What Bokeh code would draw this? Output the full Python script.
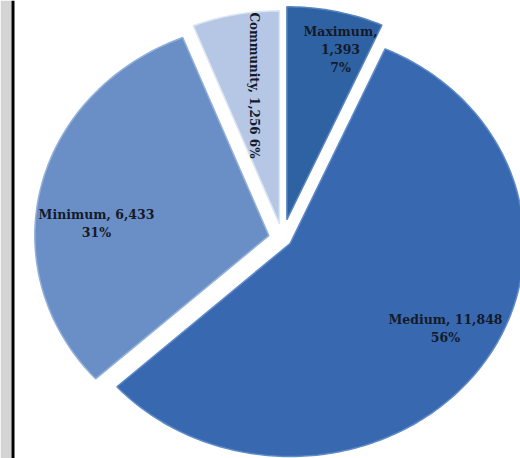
import math
from bokeh.plotting import figure
from bokeh.models import Range1d, ColumnDataSource
from bokeh.core.properties import value
from bokeh.embed import file_html
from bokeh.resources import INLINE

# ---- data ----
categories = ["Maximum", "Medium", "Minimum", "Community"]
counts = [1393, 11848, 6433, 1256]
percents = [7, 56, 31, 6]

# ---- style / layout ----
W, H = 520, 458
colors = ["#2f62a3", "#3869b0", "#6a8fc6", "#b5c7e4"]
edge_colors = ["#5a86c0", "#5f8bc8", "#93b0d9", "#dbe5f3"]
explode = [0.09, 0.04, 0.06, 0.07]
CX, CY = 282, H - 238
RX, RY = 234, 213
FONT = "DejaVu Serif"

p = figure(width=W, height=H, x_range=Range1d(0, W), y_range=Range1d(0, H),
           output_backend="svg", toolbar_location=None, min_border=0)
p.axis.visible = False
p.grid.visible = False
p.outline_line_color = None
p.background_fill_color = "white"
p.border_fill_color = "white"

# left frame strip
p.quad(left=[0], right=[11], bottom=[0], top=[H], fill_color="#d4d4d4", line_color=None)
p.quad(left=[11], right=[14], bottom=[0], top=[H], fill_color="#000000", line_color=None)

total = sum(counts)
xs, ys = [], []
start = 0.0
for i, c in enumerate(counts):
    a0 = start / total * 2 * math.pi
    a1 = (start + c) / total * 2 * math.pi
    am = (a0 + a1) / 2
    ox = CX + explode[i] * RX * math.sin(am)
    oy = CY + explode[i] * RY * math.cos(am)
    n = max(8, int((a1 - a0) / (2 * math.pi) * 360))
    px = [ox]
    py = [oy]
    for k in range(n + 1):
        t = a0 + (a1 - a0) * k / n
        px.append(ox + RX * math.sin(t))
        py.append(oy + RY * math.cos(t))
    xs.append(px)
    ys.append(py)
    start += c

src = ColumnDataSource(dict(xs=xs, ys=ys, fill=colors, edge=edge_colors))
p.patches("xs", "ys", source=src, fill_color="fill", line_color="edge", line_width=1.5)

# labels
labels = [
    f"{categories[0]},\n{counts[0]:,}\n{percents[0]}%",
    f"{categories[1]}, {counts[1]:,}\n{percents[1]}%",
    f"{categories[2]}, {counts[2]:,}\n{percents[2]}%",
    f"{categories[3]}, {counts[3]:,} {percents[3]}%",
]
label_pos = [(340, H - 49), (445, H - 328), (96, H - 223), (253, H - 85)]
label_angle = [0, 0, 0, -math.pi / 2]
label_size = ["12.5px", "12.5px", "12.5px", "12px"]

for lab, (lx, ly), ang, sz in zip(labels, label_pos, label_angle, label_size):
    p.text(x=[lx], y=[ly], text=[lab], angle=ang, text_align="center",
           text_baseline="middle", text_font=value(FONT), text_font_style="bold",
           text_font_size=sz, text_color="#141a2a", text_line_height=1.2)

open("out.html", "w").write(file_html(p, INLINE))
